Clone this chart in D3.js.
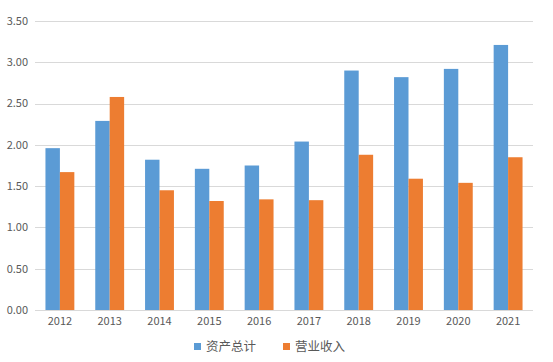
<!DOCTYPE html>
<html>
<head>
<meta charset="utf-8">
<script src="https://cdn.jsdelivr.net/npm/d3@7"></script>
<style>
  body { margin: 0; background: #fff; }
  svg { display: block; font-family: "Noto Sans CJK SC", "Liberation Sans", sans-serif; }
</style>
</head>
<body>
<svg></svg>
<script>
const width = 553,
      height = 362,
      margin = {top: 21, right: 20, bottom: 52, left: 35};

const years = ["2012","2013","2014","2015","2016","2017","2018","2019","2020","2021"];
const seriesNames = ["资产总计", "营业收入"];
const assets = [1.96, 2.29, 1.82, 1.71, 1.75, 2.04, 2.90, 2.82, 2.92, 3.21];
const revenue = [1.67, 2.58, 1.45, 1.32, 1.34, 1.33, 1.88, 1.59, 1.54, 1.85];
const yTicks = [0, 0.5, 1, 1.5, 2, 2.5, 3, 3.5];
const colors = ["#5B9BD5", "#ED7D31"];

const svg = d3.select("svg")
  .attr("width", width)
  .attr("height", height);

const x = d3.scaleBand()
  .domain(years)
  .range([margin.left, width - margin.right])
  .paddingInner(0.42)
  .paddingOuter(0.21);

const x1 = d3.scaleBand()
  .domain(seriesNames)
  .range([0, x.bandwidth()]);

const y = d3.scaleLinear()
  .domain([0, 3.5])
  .range([height - margin.bottom, margin.top]);

// gridlines
svg.append("g")
  .selectAll("line")
  .data(yTicks)
  .join("line")
  .attr("x1", margin.left)
  .attr("x2", width - margin.right)
  .attr("y1", d => Math.round(y(d)) + 0.5)
  .attr("y2", d => Math.round(y(d)) + 0.5)
  .attr("stroke", "#D9D9D9")
  .attr("stroke-width", 1);

// y labels
svg.append("g")
  .selectAll("text")
  .data(yTicks)
  .join("text")
  .attr("x", margin.left - 7)
  .attr("y", d => y(d))
  .attr("dy", "0.35em")
  .attr("text-anchor", "end")
  .attr("font-size", 11)
  .attr("fill", "#595959")
  .text(d => d3.format(".2f")(d));

// bars
const data = years.map((yr, i) => ({year: yr, values: [assets[i], revenue[i]]}));

const groups = svg.append("g")
  .selectAll("g")
  .data(data)
  .join("g")
  .attr("transform", d => "translate(" + x(d.year) + ",0)");

groups.selectAll("rect")
  .data(d => d.values.map((v, j) => ({name: seriesNames[j], v: v, j: j})))
  .join("rect")
  .attr("x", d => x1(d.name))
  .attr("width", x1.bandwidth())
  .attr("y", d => y(d.v))
  .attr("height", d => y(0) - y(d.v))
  .attr("fill", d => colors[d.j]);

// bottom axis line
svg.append("line")
  .attr("x1", margin.left)
  .attr("x2", width - margin.right)
  .attr("y1", Math.round(y(0)) + 0.5)
  .attr("y2", Math.round(y(0)) + 0.5)
  .attr("stroke", "#D9D9D9");

// x labels
svg.append("g")
  .selectAll("text")
  .data(years)
  .join("text")
  .attr("x", d => x(d) + x.bandwidth() / 2)
  .attr("y", y(0) + 15)
  .attr("text-anchor", "middle")
  .attr("font-size", 11)
  .attr("fill", "#595959")
  .text(d => d);

// legend
const legendX = [194, 283];
const legend = svg.append("g")
  .selectAll("g")
  .data(seriesNames)
  .join("g")
  .attr("transform", (d, i) => "translate(" + legendX[i] + ",346)");

legend.append("rect")
  .attr("x", 0)
  .attr("y", -3)
  .attr("width", 7)
  .attr("height", 7)
  .attr("fill", (d, i) => colors[i]);

legend.append("text")
  .attr("x", 12)
  .attr("y", 0)
  .attr("dy", "0.38em")
  .attr("font-size", 12.5)
  .attr("fill", "#595959")
  .text(d => d);
</script>
</body>
</html>
